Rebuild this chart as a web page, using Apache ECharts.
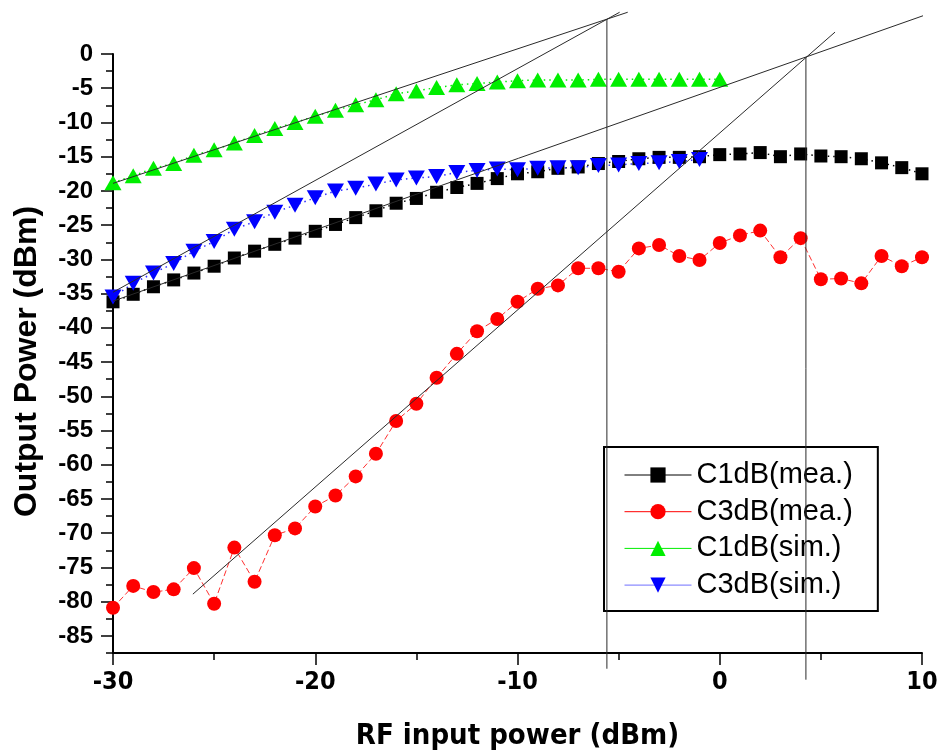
<!DOCTYPE html>
<html><head><meta charset="utf-8">
<script src="https://cdn.jsdelivr.net/npm/echarts@6/dist/echarts.min.js"></script>
<style>html,body{margin:0;padding:0;background:#fff}#c{width:941px;height:756px}</style>
</head><body><div id="c"></div>
<script>
// RF input power (dBm)
const inputPower = [-30,-29,-28,-27,-26,-25,-24,-23,-22,-21,-20,-19,-18,-17,-16,-15,-14,-13,-12,-11,-10,-9,-8,-7,-6,-5,-4,-3,-2,-1,0,1,2,3,4,5,6,7,8,9,10];
// Output power (dBm)
const c1dbMea = [-36.2,-35.1,-34.0,-33.0,-32.0,-31.0,-29.8,-28.8,-27.8,-26.9,-25.9,-24.9,-23.9,-22.9,-21.8,-21.1,-20.2,-19.5,-18.9,-18.2,-17.5,-17.2,-16.7,-16.5,-16.0,-15.7,-15.3,-15.1,-15.1,-15.0,-14.7,-14.6,-14.4,-15.0,-14.6,-14.9,-15.0,-15.3,-15.9,-16.6,-17.5];
const c3dbMea = [-80.9,-77.7,-78.6,-78.2,-75.1,-80.3,-72.1,-77.1,-70.3,-69.3,-66.1,-64.5,-61.7,-58.4,-53.6,-51.1,-47.3,-43.8,-40.5,-38.7,-36.2,-34.3,-33.8,-31.3,-31.3,-31.8,-28.4,-27.9,-29.5,-30.1,-27.6,-26.5,-25.8,-29.7,-26.9,-32.9,-32.8,-33.5,-29.5,-31.0,-29.7];
const c1dbSim = [-18.8,-17.8,-16.7,-16.0,-14.8,-14.0,-13.0,-11.9,-10.9,-10.0,-9.1,-8.2,-7.4,-6.7,-5.8,-5.4,-4.9,-4.5,-4.3,-4.1,-3.9,-3.8,-3.8,-3.8,-3.7,-3.7,-3.7,-3.7,-3.7,-3.7,-3.7];
const c3dbSim = [-35.5,-33.5,-32.0,-30.6,-28.8,-27.4,-25.6,-24.5,-23.1,-22.1,-21.0,-20.0,-19.6,-19.0,-18.4,-18.1,-17.9,-17.3,-17.0,-16.8,-16.9,-16.7,-16.6,-16.6,-16.3,-16.2,-16.0,-15.9,-15.7,-15.4];
// extrapolation (tangent) lines and intercept markers, [x, y] end points
const tangentC1Sim = [[-30,-18.9],[-4.55,6.1]];
const tangentC3Sim = [[-30,-34.8],[-4.95,6.1]];
const tangentC1Mea = [[-30,-36.1],[10.4,5.95]];
const tangentC3Mea = [[-26.05,-78.9],[5.7,3.2]];
const interceptSim = [[-5.58,5.1],[-5.58,-89.8]];
const interceptMea = [[4.26,-0.45],[4.26,-91.4]];
// axis ticks
const xTicks = [-30,-20,-10,0,10];
const yTicks = [0,-5,-10,-15,-20,-25,-30,-35,-40,-45,-50,-55,-60,-65,-70,-75,-80,-85];
const yMinorTicks = [-2.5,-7.5,-12.5,-17.5,-22.5,-27.5,-32.5,-37.5,-42.5,-47.5,-52.5,-57.5,-62.5,-67.5,-72.5,-77.5,-82.5,-87.5];
const seriesNames = ['C1dB(mea.)','C3dB(mea.)','C1dB(sim.)','C3dB(sim.)'];

const pair = (xs, ys) => ys.map((y, i) => [xs[i], y]);
const BOLD = "'Liberation Sans', Arial, sans-serif";
const NARROW = "'Liberation Sans Narrow', 'DejaVu Sans Condensed', 'Liberation Sans', Arial, sans-serif";

const refLine = (data) => ({
  type: 'line', data, symbol: 'none', clip: false, silent: true, z: 5,
  lineStyle: {color: '#2a2a2a', width: 1}, legendHoverLink: false
});

const chart = echarts.init(document.getElementById('c'), null, {renderer: 'canvas'});
chart.setOption({
  backgroundColor: '#ffffff',
  animation: false,
  grid: {left: 113, right: 19, top: 54, bottom: 100},
  xAxis: {
    type: 'value', min: xTicks[0], max: xTicks[xTicks.length - 1], interval: 10,
    axisLine: {onZero: false, lineStyle: {color: '#000', width: 2}},
    axisTick: {show: true, inside: false, length: 12, lineStyle: {color: '#000', width: 1.5}},
    minorTick: {show: true, splitNumber: 2, length: 7, lineStyle: {color: '#000', width: 1.5}},
    splitLine: {show: false},
    axisLabel: {color: '#000', fontFamily: NARROW, fontWeight: 'bold', fontSize: 25, margin: 17},
    name: 'RF input power (dBm)', nameLocation: 'middle', nameGap: 69,
    nameTextStyle: {color: '#000', fontFamily: NARROW, fontWeight: 'bold', fontSize: 29}
  },
  yAxis: [{
    type: 'value', min: -87.5, max: 0,
    axisLine: {show: true, onZero: false, lineStyle: {color: '#000', width: 2}},
    axisTick: {show: true, length: 12, customValues: yTicks, lineStyle: {color: '#000', width: 1.5}},
    splitLine: {show: false},
    axisLabel: {color: '#000', fontFamily: BOLD, fontWeight: 'bold', fontSize: 24, margin: 20, customValues: yTicks},
    name: 'Output Power (dBm)', nameLocation: 'middle', nameGap: 70, nameRotate: 90,
    nameTextStyle: {color: '#000', fontFamily: BOLD, fontWeight: 'bold', fontSize: 32, padding: [0, 16, 0, 0]}
  }, {
    type: 'value', min: -87.5, max: 0, position: 'left',
    axisLine: {show: false, onZero: false},
    axisTick: {show: true, length: 7, customValues: yMinorTicks, lineStyle: {color: '#000', width: 1.5}},
    axisLabel: {show: false},
    splitLine: {show: false}
  }],
  legend: {
    data: [
      {name: seriesNames[0], lineStyle: {color: '#000', type: 'solid', width: 1}},
      {name: seriesNames[1], lineStyle: {color: '#ff0000', type: 'solid', width: 1}},
      {name: seriesNames[2], lineStyle: {color: '#00ee00', type: 'solid', width: 1}},
      {name: seriesNames[3], lineStyle: {color: '#7070ff', type: 'solid', width: 1}}
    ],
    orient: 'vertical', left: 604, top: 447,
    itemWidth: 67, itemHeight: 19, itemGap: 7.7,
    padding: [13.5, 25, 11.5, 20],
    borderColor: '#000', borderWidth: 2, backgroundColor: '#fff',
    textStyle: {color: '#000', fontFamily: BOLD, fontSize: 29},
    selectedMode: false, z: 3
  },
  series: [
    {
      name: seriesNames[0], type: 'line', data: pair(inputPower, c1dbMea), z: 2,
      symbol: 'rect', symbolSize: 13,
      itemStyle: {color: '#000'},
      lineStyle: {color: '#000', width: 1.5, type: [1.5, 4]}
    },
    {
      name: seriesNames[1], type: 'line', data: pair(inputPower, c3dbMea), z: 2,
      symbol: 'circle', symbolSize: 14,
      itemStyle: {color: '#ff0000'},
      lineStyle: {color: '#ff3030', width: 1, type: [6, 3]}
    },
    {
      name: seriesNames[2], type: 'line', data: pair(inputPower, c1dbSim), z: 2,
      symbol: 'triangle', symbolSize: [17, 15],
      itemStyle: {color: '#00ee00'},
      lineStyle: {color: '#00ee00', width: 1.5, type: [1.5, 4]}
    },
    {
      name: seriesNames[3], type: 'line', data: pair(inputPower, c3dbSim), z: 2,
      symbol: 'triangle', symbolRotate: 180, symbolSize: [17, 15],
      itemStyle: {color: '#0000ff'},
      lineStyle: {color: '#3030ff', width: 1.5, type: [1.5, 4]}
    },
    refLine(tangentC1Sim),
    refLine(tangentC3Sim),
    refLine(tangentC1Mea),
    refLine(tangentC3Mea),
    refLine(interceptSim),
    refLine(interceptMea)
  ]
});
</script>
</body></html>
